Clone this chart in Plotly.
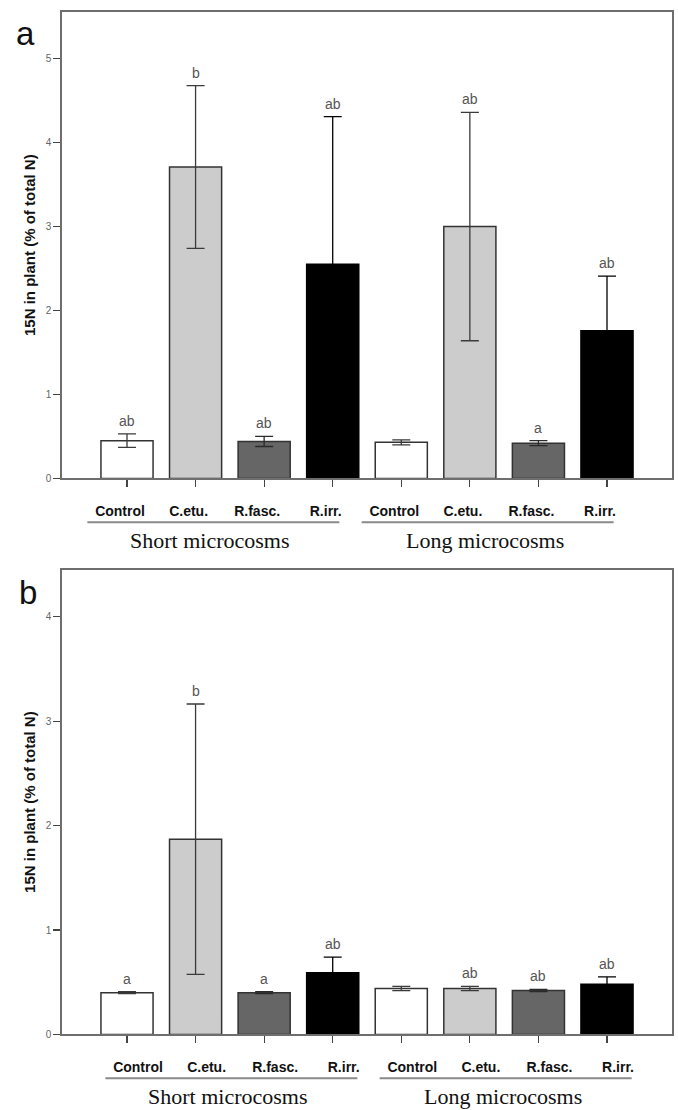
import plotly.graph_objects as go

# ---------------- data ----------------
treatments = ["Control", "C.etu.", "R.fasc.", "R.irr."]
groups = ["Short microcosms", "Long microcosms"]

# panel a
a_values = [0.45, 3.71, 0.44, 2.55, 0.43, 3.00, 0.42, 1.76]
a_errors = [0.08, 0.97, 0.06, 1.76, 0.03, 1.36, 0.03, 0.65]
a_letters = ["ab", "b", "ab", "ab", "", "ab", "a", "ab"]

# panel b
b_values = [0.40, 1.87, 0.40, 0.59, 0.44, 0.44, 0.42, 0.48]
b_errors = [0.01, 1.295, 0.01, 0.15, 0.02, 0.02, 0.01, 0.07]
b_letters = ["a", "b", "a", "ab", "", "ab", "ab", "ab"]

a_ticks = [0, 1, 2, 3, 4, 5]
b_ticks = [0, 1, 2, 3, 4]

fill_colors = ["#ffffff", "#cccccc", "#666666", "#000000"]
line_colors = ["#333333", "#333333", "#333333", "#000000"]
err_colors = ["#3a3a3a", "#3a3a3a", "#2a2a2a", "#000000"]

# ---------------- layout helpers ----------------
W, H = 678, 1110
def px(x):
    return x / W
def py(y):
    return 1 - y / H

X_LEFT, X_RIGHT = 62, 672
XRANGE = [-0.948, 7.948]
PX_PER_UNIT = (X_RIGHT - X_LEFT) / (XRANGE[1] - XRANGE[0])
def xpix(v):
    return X_LEFT + (v - XRANGE[0]) * PX_PER_UNIT

panels = [
    dict(vals=a_values, errs=a_errors, letters=a_letters, ticks=a_ticks,
         ytop=12, ybot=481, yrange=[0, 5.557], shift=-7, tag="a", tagpos=(25, 34),
         xa="x", ya="y"),
    dict(vals=b_values, errs=b_errors, letters=b_letters, ticks=b_ticks,
         ytop=573, ybot=1040, yrange=[0, 4.45], shift=11, tag="b", tagpos=(28, 596),
         xa="x2", ya="y2"),
]

n_t = len(treatments)
n = n_t * len(groups)
xpos = list(range(n))
tick_text = treatments * len(groups)

fig = go.Figure()
annotations = []
shapes = []

AXIS_COL = "#6e6e6e"

for k, p in enumerate(panels):
    # one trace per treatment so each can carry its own colours
    for t in range(n_t):
        idx = [g * n_t + t for g in range(len(groups))]
        fig.add_trace(go.Bar(
            x=[xpos[i] for i in idx], y=[p["vals"][i] for i in idx], width=0.76,
            marker=dict(color=fill_colors[t], line=dict(color=line_colors[t], width=1.5)),
            error_y=dict(type="data", array=[p["errs"][i] for i in idx], visible=True,
                         color=err_colors[t], thickness=1.3, width=9),
            xaxis=p["xa"], yaxis=p["ya"], showlegend=False, name=treatments[t],
        ))
    sfx = "" if k == 0 else "2"
    fig.update_layout(**{
        "xaxis" + sfx: dict(
            domain=[px(X_LEFT), px(X_RIGHT)], range=XRANGE, anchor="y" + sfx,
            tickmode="array", tickvals=xpos, ticktext=tick_text,
            ticks="outside", ticklen=7, tickwidth=1.2, tickcolor="#444444",
            tickfont=dict(family="Liberation Sans, Arial", size=14, color="#111111", weight="bold"),
            ticklabelshift=p["shift"], ticklabelstandoff=12,
            showline=True, linecolor=AXIS_COL, linewidth=1.6, mirror=True,
            showgrid=False, zeroline=False, fixedrange=True,
        ),
        "yaxis" + sfx: dict(
            domain=[py(p["ybot"]), py(p["ytop"])], range=p["yrange"], anchor="x" + sfx,
            tickmode="array", tickvals=p["ticks"], ticktext=[str(t) for t in p["ticks"]],
            ticks="outside", ticklen=7, tickwidth=1.2, tickcolor="#444444",
            tickfont=dict(family="Liberation Sans, Arial", size=10, color="#666666"),
            showline=True, linecolor=AXIS_COL, linewidth=1.6, mirror=True,
            showgrid=False, zeroline=False, fixedrange=True,
            title=dict(text="15N in plant (% of total N)", standoff=6,
                       font=dict(family="Liberation Sans, Arial", size=15, color="#111111", weight="bold")),
        ),
    })

    # significance letters
    for i in range(n):
        if p["letters"][i]:
            annotations.append(dict(
                x=xpos[i], y=p["vals"][i] + p["errs"][i], xref=p["xa"], yref=p["ya"],
                text=p["letters"][i], showarrow=False, yanchor="bottom", yshift=3,
                font=dict(family="Liberation Sans, Arial", size=14, color="#555555"),
            ))

    # group underlines and labels
    for g in range(len(groups)):
        first, last = g * n_t, g * n_t + n_t - 1
        centre = (xpix(first) + xpix(last)) / 2 + p["shift"] - 9.5
        yl = p["ybot"] + 44
        shapes.append(dict(type="line", xref="paper", yref="paper",
                           x0=px(centre - 126), x1=px(centre + 126), y0=py(yl), y1=py(yl),
                           line=dict(color="#8a8a8a", width=2)))
        annotations.append(dict(
            x=px(centre - 3), y=py(p["ybot"] + 62), xref="paper", yref="paper",
            text=groups[g], showarrow=False, xanchor="center", yanchor="middle",
            font=dict(family="Liberation Serif, Times New Roman", size=22, color="#111111"),
        ))

    # panel tag
    annotations.append(dict(
        x=px(p["tagpos"][0]), y=py(p["tagpos"][1]), xref="paper", yref="paper",
        text=p["tag"], showarrow=False, xanchor="center", yanchor="middle",
        font=dict(family="Liberation Sans, Arial", size=33, color="#111111"),
    ))

fig.update_layout(
    width=W, height=H,
    margin=dict(l=0, r=0, t=0, b=0),
    paper_bgcolor="white", plot_bgcolor="white",
    annotations=annotations, shapes=shapes,
    bargap=0, barmode="overlay",
)

fig.write_html(
    "out.html",
    config={"displayModeBar": False, "staticPlot": True},
    post_script="document.body.style.margin='0';document.body.style.padding='0';document.body.style.overflow='hidden';",
)
